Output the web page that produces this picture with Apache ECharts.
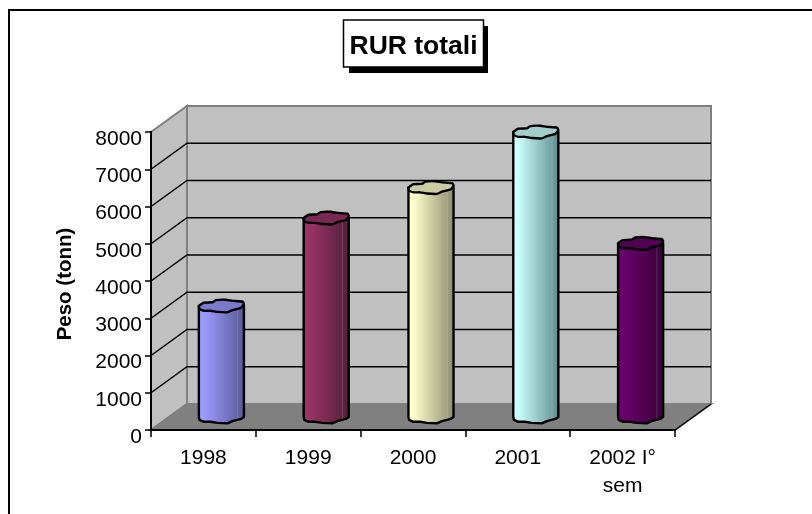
<!DOCTYPE html>
<html>
<head>
<meta charset="utf-8">
<style>html,body{margin:0;padding:0;background:#fff}#c{width:812px;height:514px}</style>
<script src="https://cdn.jsdelivr.net/npm/echarts@6/dist/echarts.min.js"></script>
</head>
<body>
<div id="c"></div>
<script>
var categories = ['1998', '1999', '2000', '2001', '2002 I°\nsem'];
var values = [2980, 5340, 6160, 7650, 4660];
var yTicks = [1000, 2000, 3000, 4000, 5000, 6000, 7000, 8000];
var lightColors = ['#9C9CFF', '#9C3468', '#FFFFCC', '#CCFFFF', '#6C006C'];
var darkColors = ['#585892', '#502038', '#8A8A6E', '#5E8A8A', '#380038'];
var capColors = ['#7A7ACC', '#7A2952', '#CCCCA3', '#A3CCCC', '#520052'];
var wallParts = ['side', 'back', 'floor'];

var DX = 36, DY = -26;
var FONT = '"Liberation Sans", Arial, sans-serif';
var capShape = [[-1,0],[-.78,-.53],[-.4,-.59],[-.25,-.94],[.2,-1],[.49,-.82],[.94,-.7],[1,-.3],
                [.87,.3],[.49,.65],[.27,1],[-.18,.94],[-.48,.76],[-.78,.76],[-.97,.47]];

function renderWall(params, api) {
  var part = wallParts[api.value(0)];
  var cs = params.coordSys;
  var L = cs.x, R = cs.x + cs.width, T = cs.y, B = cs.y + cs.height;
  var pts, fill;
  if (part === 'side') {
    pts = [[L,B],[L,T],[L+DX,T+DY],[L+DX,B+DY]]; fill = '#C0C0C0';
  } else if (part === 'back') {
    pts = [[L+DX,T+DY],[R+DX,T+DY],[R+DX,B+DY],[L+DX,B+DY]]; fill = '#C0C0C0';
  } else {
    pts = [[L,B],[L+DX,B+DY],[R+DX,B+DY],[R,B]]; fill = '#808080';
  }
  var kids = [{type:'polygon', shape:{points:pts}, style:{fill:fill, stroke:'#808080', lineWidth:2}}];
  if (part === 'floor') {
    kids.push({type:'line', shape:{x1:R,y1:B,x2:R+DX,y2:B+DY}, style:{stroke:'#000', lineWidth:1.5}});
  }
  return {type:'group', children:kids};
}

function renderGrid(params, api) {
  var cs = params.coordSys;
  var p = api.coord([0, api.value(0)]);
  var L = cs.x, R = cs.x + cs.width, y = p[1];
  if (api.value(0) === yTicks[yTicks.length-1]) return {type:'group', children:[]};
  return {type:'polyline',
    shape:{points:[[L,y],[L+DX,y+DY],[R+DX,y+DY]]},
    style:{fill:'none', stroke:'#000', lineWidth:1.5}};
}

function renderBar(params, api) {
  var i = api.value(0);
  var top = api.coord([i, api.value(1)]);
  var base = api.coord([i, 0]);
  var band = api.size([1, 0])[0];
  var a = band * 0.215, b = 6.3;
  var cx = top[0] + DX/2, ty = top[1] + DY/2, by = base[1] + DY/2;
  var cap = capShape.map(function(q){ return [cx + q[0]*a, ty + q[1]*b]; });
  var body = [[cx - a, ty], [cx - a, by]];
  for (var m = capShape.length - 1; m >= 8; m--) body.push([cx + capShape[m][0]*a, by + capShape[m][1]*b]);
  body.push([cx + a, by]);
  body.push([cx + a, ty]);
  var fill = {type:'linear', x:0, y:0, x2:1, y2:0, colorStops:[
    {offset:0, color:lightColors[i]}, {offset:0.12, color:lightColors[i]}, {offset:1, color:darkColors[i]}]};
  return {type:'group', children:[
    {type:'polygon', shape:{points:body}, style:{fill:fill, stroke:'#000', lineWidth:2.4, lineJoin:'round'}},
    {type:'line', shape:{x1:cx+a*0.72,y1:ty+b*0.5,x2:cx+a*0.72,y2:by+b*0.4}, style:{stroke:'rgba(255,255,255,0.15)', lineWidth:1}},
    {type:'polygon', shape:{points:cap, smooth:0.15}, style:{fill:capColors[i], stroke:'#000', lineWidth:2.4, lineJoin:'round'}}
  ]};
}

var chart = echarts.init(document.getElementById('c'), null, {renderer:'canvas'});
chart.setOption({
  animation:false,
  backgroundColor:'#fff',
  title:{
    text:'RUR totali', left:343, top:20,
    padding:[13,6,7,6.5],
    backgroundColor:'#fff', borderColor:'#000', borderWidth:1.5,
    textStyle:{fontFamily:FONT, fontSize:26.5, fontWeight:'bold', color:'#000', lineHeight:27}
  },
  graphic:[
    {type:'polyline', z:100, shape:{points:[[9,514],[9,10],[812,10]]},
     style:{fill:'none', stroke:'#000', lineWidth:2}},
    {type:'rect', z:0, shape:{x:349, y:26, width:139, height:47}, style:{fill:'#000'}}
  ],
  grid:{left:151, top:132, width:524, height:298, containLabel:false},
  xAxis:{
    type:'category', data:categories, z:10,
    axisLine:{show:true, lineStyle:{color:'#000', width:2}},
    axisTick:{show:true, alignWithLabel:false, length:7, lineStyle:{color:'#000', width:1.5}},
    axisLabel:{interval:0, margin:14, fontFamily:FONT, fontSize:21, color:'#000', lineHeight:28},
    splitLine:{show:false}
  },
  yAxis:{
    type:'value', min:0, max:8000, interval:1000, z:10,
    name:'Peso (tonn)', nameLocation:'middle', nameGap:75, nameRotate:90,
    nameTextStyle:{fontFamily:FONT, fontSize:20.5, fontWeight:'bold', color:'#000', padding:[0,6,0,0]},
    axisLine:{show:true, lineStyle:{color:'#000', width:2}},
    axisTick:{show:true, length:6, lineStyle:{color:'#000', width:1.5}},
    axisLabel:{margin:9, fontFamily:FONT, fontSize:21, color:'#000', verticalAlign:'top', lineHeight:14,
      formatter:function(v){ return String(v); }},
    splitLine:{show:false}
  },
  series:[
    {type:'custom', z:1, clip:false, silent:true, coordinateSystem:'cartesian2d',
     renderItem:renderWall, encode:{x:0, y:1},
     data:wallParts.map(function(p,i){return [i, 0];})},
    {type:'custom', z:2, clip:false, silent:true, coordinateSystem:'cartesian2d',
     renderItem:renderGrid, encode:{y:0},
     data:yTicks.map(function(v){return [v];})},
    {type:'custom', z:3, clip:false, silent:true, coordinateSystem:'cartesian2d',
     renderItem:renderBar, encode:{x:0, y:1},
     data:values.map(function(v,i){return [i, v];})}
  ]
});
</script>
</body>
</html>
